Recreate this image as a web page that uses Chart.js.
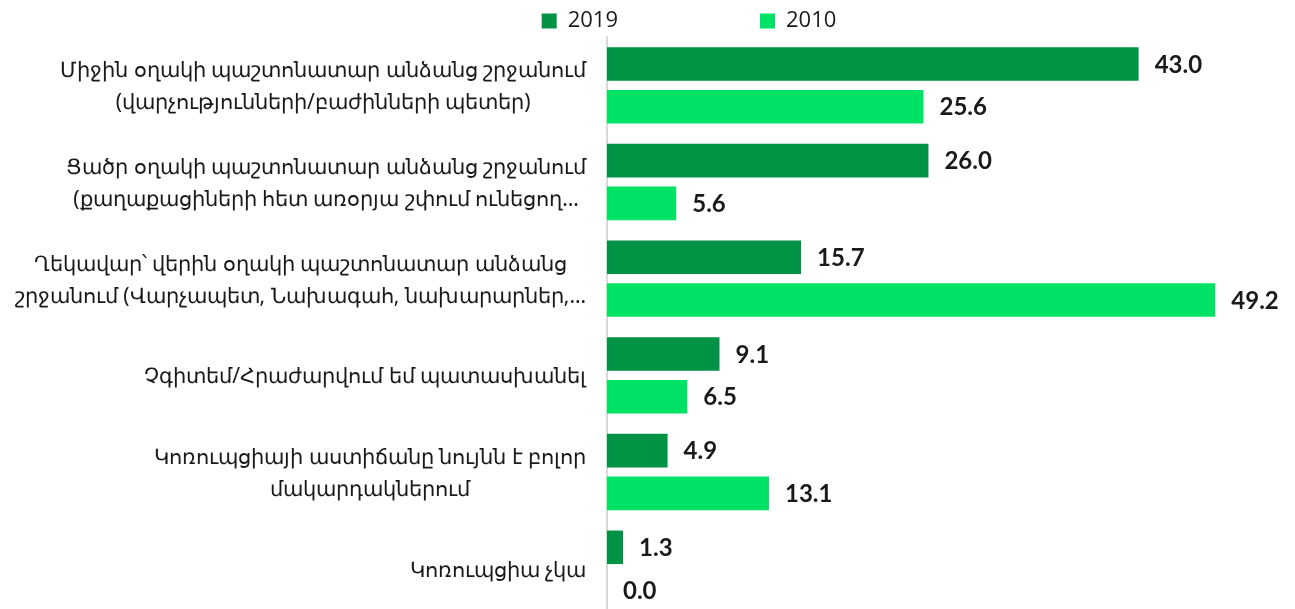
<!DOCTYPE html>
<html>
<head>
<meta charset="utf-8">
<script src="https://cdn.jsdelivr.net/npm/chart.js@4/dist/chart.umd.min.js"></script>
<style>
  html, body { margin: 0; padding: 0; overflow: hidden; background: #fff; }
  canvas { display: block; }
</style>
</head>
<body>
<canvas id="barChart" width="1295" height="617"></canvas>
<script>
  // categories (multi-line labels as in the original)
  let categories = [
    ['Միջին օղակի պաշտոնատար անձանց շրջանում', '(վարչությունների/բաժինների պետեր)'],
    ['Ցածր օղակի պաշտոնատար անձանց շրջանում', '(քաղաքացիների հետ առօրյա շփում ունեցող…'],
    ['Ղեկավար՝ վերին օղակի պաշտոնատար անձանց', 'շրջանում (Վարչապետ, Նախագահ, նախարարներ,…'],
    ['Չգիտեմ/Հրաժարվում եմ պատասխանել'],
    ['Կոռուպցիայի աստիճանը նույնն է բոլոր', 'մակարդակներում'],
    ['Կոռուպցիա չկա']
  ];
  let values2019 = [43.0, 26.0, 15.7, 9.1, 4.9, 1.3];
  let values2010 = [25.6, 5.6, 49.2, 6.5, 13.1, 0.0];
  let seriesNames = ['2019', '2010'];

  // value labels at the end of each bar
  let valueLabels = {
    id: 'valueLabels',
    afterDatasetsDraw(chart) {
      let ctx = chart.ctx;
      ctx.save();
      ctx.font = 'bold 24px Lato';
      ctx.fillStyle = '#1a1a1a';
      ctx.textAlign = 'left';
      ctx.textBaseline = 'middle';
      chart.data.datasets.forEach(function(ds, di) {
        chart.getDatasetMeta(di).data.forEach(function(bar, i) {
          ctx.fillText(ds.data[i].toFixed(1), bar.x + 16, bar.y + 1);
        });
      });
      ctx.restore();
    }
  };

  // category labels: block right aligned, lines centered inside the block
  let categoryLabels = {
    id: 'categoryLabels',
    afterDraw(chart) {
      let ctx = chart.ctx;
      let yScale = chart.scales.y;
      ctx.save();
      ctx.font = '21px "Noto Sans"';
      ctx.fillStyle = '#1a1a1a';
      ctx.textAlign = 'center';
      ctx.textBaseline = 'middle';
      categories.forEach(function(lines, i) {
        let y = yScale.getPixelForValue(i);
        let widest = Math.max.apply(null, lines.map(l => ctx.measureText(l).width));
        let cx = chart.chartArea.left - 21 - widest / 2;
        lines.forEach(function(line, j) {
          ctx.fillText(line, cx, y + 2 + (j - (lines.length - 1) / 2) * 32);
        });
      });
      ctx.restore();
    }
  };

  let ctx = document.getElementById('barChart').getContext('2d');
  let barChart = new Chart(ctx, {
    type: 'bar',
    data: {
      labels: categories,
      datasets: [{
        label: seriesNames[0],
        data: values2019,
        backgroundColor: '#009245',
        categoryPercentage: 0.884,
        barPercentage: 0.785
      }, {
        label: seriesNames[1],
        data: values2010,
        backgroundColor: '#00e266',
        categoryPercentage: 0.884,
        barPercentage: 0.785
      }]
    },
    options: {
      indexAxis: 'y',
      responsive: false,
      animation: false,
      layout: {
        padding: { left: 91, right: 8, top: 0, bottom: 0 }
      },
      plugins: {
        tooltip: { enabled: false },
        legend: {
          position: 'top',
          maxHeight: 37,
          labels: {
            boxWidth: 15,
            boxHeight: 15,
            padding: 10,
            color: '#1a1a1a',
            font: { family: 'Open Sans', size: 22 },
            generateLabels(chart) {
              let items = Chart.defaults.plugins.legend.labels.generateLabels(chart);
              // wide gap between the two legend entries
              items[0].text = items[0].text + '\u2003\u2003\u2003\u2003\u2003\u2003';
              return items;
            }
          }
        }
      },
      scales: {
        x: {
          display: false,
          min: 0,
          max: 55
        },
        y: {
          grid: { display: false },
          border: { color: '#d9d9d9', width: 2 },
          ticks: { display: false },
          afterFit(scale) {
            scale.width = 607 - 91;
          }
        }
      }
    },
    plugins: [valueLabels, categoryLabels]
  });
</script>
</body>
</html>
